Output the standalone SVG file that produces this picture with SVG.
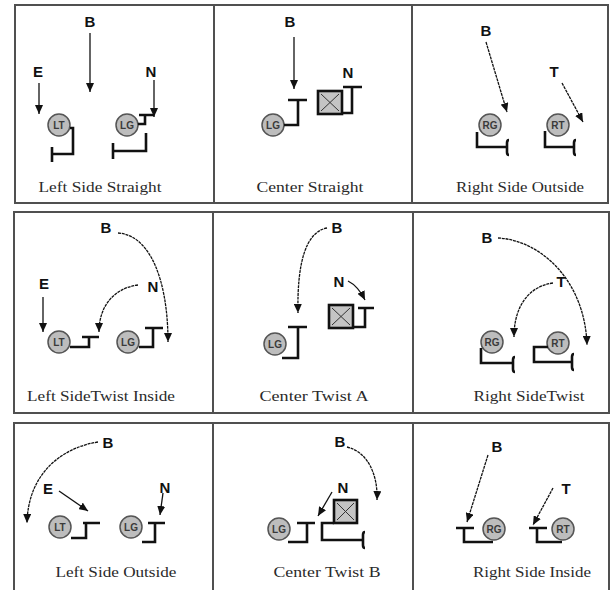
<svg xmlns="http://www.w3.org/2000/svg" width="613" height="590" viewBox="0 0 613 590">
<style>
.frame{fill:none;stroke:#505050;stroke-width:2}
.div{stroke:#505050;stroke-width:2}
.lbl{font-family:"Liberation Serif",serif;font-size:15px;fill:#2a2a2a;text-anchor:middle}
.ltr{font-family:"Liberation Sans",Arial,sans-serif;font-weight:bold;font-size:15px;fill:#111;text-anchor:middle}
.pl circle{fill:#bdbdbd;stroke:#555;stroke-width:1.5}
.pl text{font-family:"Liberation Sans",Arial,sans-serif;font-weight:bold;font-size:10px;fill:#3a3a3a;text-anchor:middle}
.blk{fill:none;stroke:#111;stroke-width:2.6;stroke-linejoin:miter}
.arr{fill:none;stroke:#111;stroke-width:1.3;marker-end:url(#ah)}
.dsh{stroke-dasharray:3 0.8}
.nose{fill:#c4c4c4;stroke:#111;stroke-width:2.6}
.x{stroke:#333;stroke-width:1}
</style>
<defs>
<marker id="ah" markerUnits="userSpaceOnUse" markerWidth="10" markerHeight="8" refX="9" refY="4" orient="auto">
<path d="M0,0 L9,4 L0,8 z" fill="#111"/>
</marker>
</defs>
<g id="frames">
<rect class="frame" x="15" y="5" width="593" height="198"/>
<line class="div" x1="214" y1="5" x2="214" y2="203"/>
<line class="div" x1="412" y1="5" x2="412" y2="203"/>
<rect class="frame" x="14" y="212" width="595" height="201"/>
<line class="div" x1="213" y1="212" x2="213" y2="413"/>
<line class="div" x1="413" y1="212" x2="413" y2="413"/>
<path class="frame" d="M14,600 V423 H609 V600"/>
<line class="div" x1="213" y1="423" x2="213" y2="600"/>
<line class="div" x1="413" y1="423" x2="413" y2="600"/>
</g>

<!-- Row 1 cell 1 -->
<g id="c1-lt" class="pl"><circle cx="59" cy="125" r="11"/><text x="59" y="128.5">LT</text></g>
<g id="c1-lg" class="pl"><circle cx="127" cy="125" r="11"/><text x="127" y="128.5">LG</text></g>
<g id="c1-blocks">
<path class="blk" d="M70,128 H73 V154 H52 M52,147 V162"/>
<path class="blk" d="M138,124 H145 V115 M139,115 H154"/>
<path class="blk" d="M146,133 V151 H113 M113,143 V159"/>
</g>
<g id="c1-labels">
<text class="ltr" x="90" y="27">B</text>
<text class="ltr" x="38" y="77">E</text>
<text class="ltr" x="151" y="77">N</text>
<text class="lbl" x="100" y="192" textLength="123" lengthAdjust="spacingAndGlyphs">Left Side Straight</text>
</g>

<!-- Row 1 cell 2 -->
<g id="c2-lg" class="pl"><circle cx="273" cy="125" r="11"/><text x="273" y="128.5">LG</text></g>
<g id="c2-nose"><rect class="nose" x="318" y="91" width="24" height="23"/><path class="x" d="M321,94 L339,111 M339,94 L321,111"/></g>
<g id="c2-blocks">
<path class="blk" d="M284,125 H298 V100 M288,100 H307"/>
<path class="blk" d="M342,113 H352 V87 M343,87 H362"/>
</g>
<g id="c2-labels">
<text class="ltr" x="290" y="27">B</text>
<text class="ltr" x="348" y="78">N</text>
<text class="lbl" x="310" y="192" textLength="107" lengthAdjust="spacingAndGlyphs">Center Straight</text>
</g>

<!-- Row 1 cell 3 -->
<g id="c3-rg" class="pl"><circle cx="490" cy="125" r="11"/><text x="490" y="128.5">RG</text></g>
<g id="c3-rt" class="pl"><circle cx="558" cy="125" r="11"/><text x="558" y="128.5">RT</text></g>
<g id="c3-blocks">
<path class="blk" d="M477,132 V147 H507"/>
<path class="blk" d="M509,140 Q507,140 507,143 V152 Q507,155 509,155"/>
<path class="blk" d="M545,131 V147 H574"/>
<path class="blk" d="M576,140 Q574,140 574,143 V152 Q574,155 576,155"/>
</g>
<g id="c3-labels">
<text class="ltr" x="486" y="36">B</text>
<text class="ltr" x="554" y="77">T</text>
<text class="lbl" x="520" y="192" textLength="128" lengthAdjust="spacingAndGlyphs">Right Side Outside</text>
</g>

<!-- Row 2 cell 1 -->
<g id="c4-lt" class="pl"><circle cx="59" cy="342" r="11"/><text x="59" y="345.5">LT</text></g>
<g id="c4-lg" class="pl"><circle cx="128" cy="342" r="11"/><text x="128" y="345.5">LG</text></g>
<g id="c4-blocks">
<path class="blk" d="M70,347 H89 V337 M82,337 H99"/>
<path class="blk" d="M139,347 H153 V328 M145,328 H163"/>
</g>
<g id="c4-labels">
<text class="ltr" x="106" y="233">B</text>
<text class="ltr" x="44" y="289">E</text>
<text class="ltr" x="153" y="292">N</text>
<text class="lbl" x="101" y="401" textLength="148" lengthAdjust="spacingAndGlyphs">Left SideTwist Inside</text>
</g>

<!-- Row 2 cell 2 -->
<g id="c5-lg" class="pl"><circle cx="275" cy="344" r="11"/><text x="275" y="347.5">LG</text></g>
<g id="c5-nose"><rect class="nose" x="329" y="305" width="24" height="23"/><path class="x" d="M332,308 L350,325 M350,308 L332,325"/></g>
<g id="c5-blocks">
<path class="blk" d="M282,358 H298 V327 M288,327 H307"/>
<path class="blk" d="M353,327 H365 V308 M358,308 H374"/>
</g>
<g id="c5-labels">
<text class="ltr" x="337" y="233">B</text>
<text class="ltr" x="339" y="287">N</text>
<text class="lbl" x="314" y="401" textLength="109" lengthAdjust="spacingAndGlyphs">Center Twist A</text>
</g>

<!-- Row 2 cell 3 -->
<g id="c6-rg" class="pl"><circle cx="492" cy="342" r="11"/><text x="492" y="345.5">RG</text></g>
<g id="c6-rt" class="pl"><circle cx="558" cy="343" r="11"/><text x="558" y="346.5">RT</text></g>
<g id="c6-blocks">
<path class="blk" d="M481,348 V363 H513"/>
<path class="blk" d="M515,357 Q513,357 513,360 V369 Q513,372 515,372"/>
<path class="blk" d="M548,347 H534 V362 H572"/>
<path class="blk" d="M574,354 Q572,354 572,357 V367 Q572,370 574,370"/>
</g>
<g id="c6-labels">
<text class="ltr" x="487" y="243">B</text>
<text class="ltr" x="561" y="287">T</text>
<text class="lbl" x="529" y="401" textLength="111" lengthAdjust="spacingAndGlyphs">Right SideTwist</text>
</g>

<!-- Row 3 cell 1 -->
<g id="c7-lt" class="pl"><circle cx="60" cy="527" r="11"/><text x="60" y="530.5">LT</text></g>
<g id="c7-lg" class="pl"><circle cx="131" cy="527" r="11"/><text x="131" y="530.5">LG</text></g>
<g id="c7-blocks">
<path class="blk" d="M71,538 H86 V523 M83,523 H100"/>
<path class="blk" d="M142,542 H155 V523 M148,523 H165"/>
</g>
<g id="c7-labels">
<text class="ltr" x="108" y="448">B</text>
<text class="ltr" x="48" y="494">E</text>
<text class="ltr" x="165" y="493">N</text>
<text class="lbl" x="116" y="577" textLength="121" lengthAdjust="spacingAndGlyphs">Left Side Outside</text>
</g>

<!-- Row 3 cell 2 -->
<g id="c8-lg" class="pl"><circle cx="279" cy="529" r="11"/><text x="279" y="532.5">LG</text></g>
<g id="c8-nose"><rect class="nose" x="334" y="500" width="23" height="23"/><path class="x" d="M337,503 L354,520 M354,503 L337,520"/></g>
<g id="c8-blocks">
<path class="blk" d="M288,542 H307 V523 M297,523 H315"/>
<path class="blk" d="M334,523 H322 V540 H363"/>
<path class="blk" d="M365,532 Q363,532 363,535 V545 Q363,548 365,548"/>
</g>
<g id="c8-labels">
<text class="ltr" x="340" y="447">B</text>
<text class="ltr" x="343" y="493">N</text>
<text class="lbl" x="327" y="577" textLength="107" lengthAdjust="spacingAndGlyphs">Center Twist B</text>
</g>

<!-- Row 3 cell 3 -->
<g id="c9-rg" class="pl"><circle cx="494" cy="529" r="11"/><text x="494" y="532.5">RG</text></g>
<g id="c9-rt" class="pl"><circle cx="563" cy="529" r="11"/><text x="563" y="532.5">RT</text></g>
<g id="c9-blocks">
<path class="blk" d="M493,542 H464 V528 M456,528 H474"/>
<path class="blk" d="M562,542 H537 V528 M529,528 H547"/>
</g>
<g id="c9-labels">
<text class="ltr" x="497" y="452">B</text>
<text class="ltr" x="566" y="494">T</text>
<text class="lbl" x="532" y="577" textLength="118" lengthAdjust="spacingAndGlyphs">Right Side Inside</text>
</g>

<g id="connectors">
<!-- row 1 -->
<path class="arr" d="M90,33 V92"/>
<path class="arr" d="M39,83 V114"/>
<path class="arr" d="M154,80 V117"/>
<path class="arr" d="M294,37 V89"/>
<path class="arr dsh" d="M486,42 L507,112"/>
<path class="arr dsh" d="M562,83 L583,122"/>
<!-- row 2 -->
<path class="arr dsh" d="M118,233 C150,235 168,280 168,342"/>
<path class="arr" d="M43,297 V332"/>
<path class="arr dsh" d="M138,285 C115,288 99,305 99,332"/>
<path class="arr dsh" d="M327,228 C305,232 297,265 298,313"/>
<path class="arr" d="M348,281 Q358,286 365,300"/>
<path class="arr dsh" d="M498,238 C540,240 585,280 587,345"/>
<path class="arr dsh" d="M553,283 C530,286 514,305 514,337"/>
<!-- row 3 -->
<path class="arr dsh" d="M98,442 C60,448 28,475 27,523"/>
<path class="arr" d="M59,491 L88,511"/>
<path class="arr" d="M163,493 L160,515"/>
<path class="arr dsh" d="M347,447 C368,452 378,475 377,500"/>
<path class="arr" d="M332,492 L318,516"/>
<path class="arr dsh" d="M488,455 L467,522"/>
<path class="arr dsh" d="M553,488 L533,525"/>
</g>
</svg>
